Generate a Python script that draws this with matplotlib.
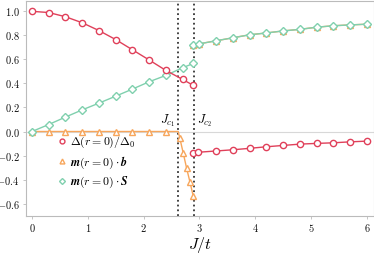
import matplotlib
matplotlib.use("Agg")
import matplotlib.pyplot as plt
from matplotlib.lines import Line2D

plt.rcParams['font.family'] = 'serif'
plt.rcParams['font.serif'] = ['cmr10', 'DejaVu Serif']
plt.rcParams['mathtext.fontset'] = 'cm'

# critical couplings
jc1 = 2.62
jc2 = 2.90

# Delta(r=0)/Delta_0
j_delta_a = [0, 0.3, 0.6, 0.9, 1.2, 1.5, 1.8, 2.1, 2.4, 2.7, 2.89]
delta_a = [1.0, 0.99, 0.955, 0.905, 0.84, 0.765, 0.68, 0.595, 0.508, 0.433, 0.384]
j_delta_b = [2.89, 2.97, 3.3, 3.6, 3.9, 4.2, 4.5, 4.8, 5.1, 5.4, 5.7, 6.0]
delta_b = [-0.176, -0.173, -0.162, -0.152, -0.14, -0.127, -0.116, -0.105, -0.099, -0.094, -0.086, -0.08]

# m(r=0).b
j_mb_a = [0, 0.3, 0.6, 0.9, 1.2, 1.5, 1.8, 2.1, 2.4, 2.62, 2.65, 2.71, 2.77, 2.83, 2.89]
mb_a = [0, 0, 0, 0, 0, 0, 0, 0, 0, 0, -0.058, -0.18, -0.305, -0.42, -0.54]
j_mb_b = [2.89, 3.0, 3.3, 3.6, 3.9, 4.2, 4.5, 4.8, 5.1, 5.4, 5.7, 6.0]
mb_b = [0.717, 0.73, 0.755, 0.78, 0.805, 0.82, 0.837, 0.85, 0.868, 0.88, 0.887, 0.893]

# m(r=0).S
j_ms_a = [0, 0.3, 0.6, 0.9, 1.2, 1.5, 1.8, 2.1, 2.4, 2.7, 2.89]
ms_a = [0.0, 0.058, 0.12, 0.18, 0.236, 0.294, 0.353, 0.414, 0.467, 0.531, 0.566]
j_ms_b = [2.89, 3.0, 3.3, 3.6, 3.9, 4.2, 4.5, 4.8, 5.1, 5.4, 5.7, 6.0]
ms_b = [0.717, 0.73, 0.755, 0.78, 0.805, 0.82, 0.837, 0.85, 0.868, 0.88, 0.887, 0.893]

xticks = [0, 1, 2, 3, 4, 5, 6]
yticks = [-0.6, -0.4, -0.2, 0.0, 0.2, 0.4, 0.6, 0.8, 1.0]

red = '#e0405a'
orange = '#f7a65c'
green = '#80d0ae'

fig = plt.figure(figsize=(3.74, 2.57), dpi=100)
ax = fig.add_axes([0.069, 0.161, 0.93, 0.837])

ax.axhline(0, color='#d8d8d8', lw=0.8, zorder=0)
ax.axvline(jc1, color='#333333', ls=':', lw=1.3, zorder=1)
ax.axvline(jc2, color='#333333', ls=':', lw=1.3, zorder=1)

mk = dict(ms=4.5, mfc='white', mew=1.0, lw=1.0)
skip = [i for i in range(len(j_mb_a)) if i != 9]
ax.plot(j_mb_b, mb_b, color=orange, marker='^', zorder=2, **mk)
ax.plot(j_mb_a, mb_a, color=orange, marker='^', markevery=skip, zorder=2, **mk)
ax.plot(j_ms_a, ms_a, color=green, marker='D', zorder=3, **dict(mk, ms=3.8))
ax.plot(j_ms_b, ms_b, color=green, marker='D', zorder=3, **dict(mk, ms=3.8))
ax.plot(j_delta_a, delta_a, color=red, marker='o', zorder=4, **mk)
ax.plot(j_delta_b, delta_b, color=red, marker='o', zorder=4, **mk)

ax.text(jc1 - 0.05, 0.02, r'$J_{c_1}$', ha='right', va='bottom', fontsize=9)
ax.text(jc2 + 0.05, 0.02, r'$J_{c_2}$', ha='left', va='bottom', fontsize=9)

handles = [
    Line2D([], [], color=red, marker='o', ls='none', ms=3.5, mfc='white', mew=1.0),
    Line2D([], [], color=orange, marker='^', ls='none', ms=3.5, mfc='white', mew=1.0),
    Line2D([], [], color=green, marker='D', ls='none', ms=3.0, mfc='white', mew=1.0),
]
labels = [r'$\Delta(r=0)/\Delta_0$',
          r'$\mathbfit{m}(r=0)\cdot\mathbfit{b}$',
          r'$\mathbfit{m}(r=0)\cdot\mathbfit{S}$']
ax.legend(handles, labels, loc='lower left', bbox_to_anchor=(0.07, 0.08),
          frameon=False, fontsize=8.5, handlelength=0.6, handletextpad=0.4,
          labelspacing=0.35, borderpad=0.2)

ax.set_xlim(-0.11, 6.12)
ax.set_ylim(-0.70, 1.09)
ax.set_xticks(xticks)
ax.set_xticklabels([f'${v}$' for v in xticks])
ax.set_yticks(yticks)
ax.set_yticklabels([f'${v:.1f}$' for v in yticks])
ax.tick_params(labelsize=7.5, colors='#bbbbbb', labelcolor='#111111', length=2.5, width=0.6, pad=2)
for s in ax.spines.values():
    s.set_color('#bbbbbb')
    s.set_linewidth(0.8)
ax.set_xlabel(r'$J/t$', fontsize=11.5, labelpad=1)

fig.savefig('out.png', dpi=100)
